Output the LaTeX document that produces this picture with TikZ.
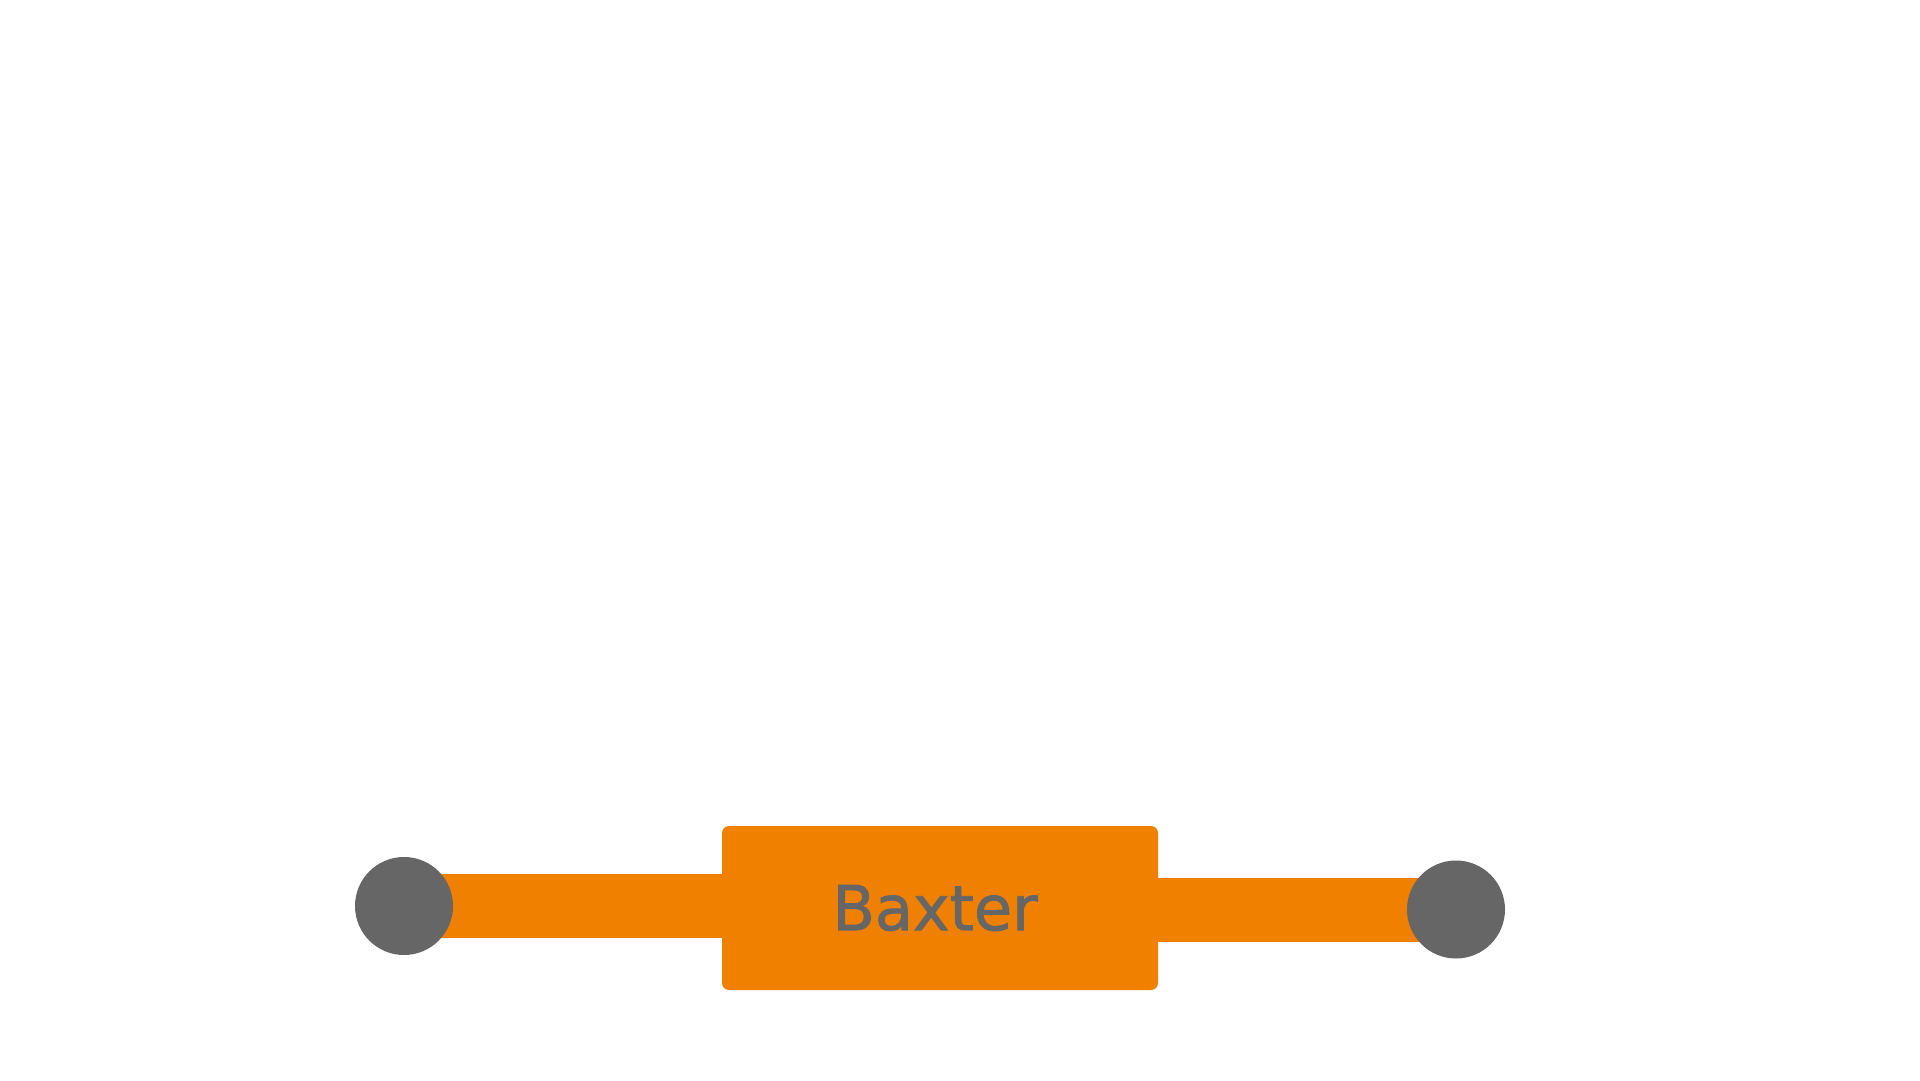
\documentclass[tikz,border=0pt]{standalone}
\usepackage{fontspec}
\setmainfont{DejaVu Sans}
\newfontfamily\labelfont[FakeBold=1.4]{DejaVu Sans}
\usetikzlibrary{positioning}
\usetikzlibrary{backgrounds}
\definecolor{linkorange}{RGB}{240,128,0}
\definecolor{endgray}{RGB}{102,102,102}

\begin{document}
\begin{tikzpicture}[x=1pt,y=1pt,
	endpoint/.style={circle,fill=endgray,minimum size=98pt,inner sep=0pt},
	block/.style={rectangle,rounded corners=7pt,fill=linkorange,minimum width=436pt,minimum height=164pt,
		text=endgray,font=\labelfont\fontsize{62}{74}\selectfont},
	bar/.style={draw=linkorange,line width=64pt}]
	\useasboundingbox (0,0) rectangle (1920,1080);
	\node[endpoint] (P0) at (404,174) {};
	\node[block] (B) at (940,172) {\hspace*{-10pt}Baxter};
	\node[endpoint] (P1) at (1456,170.5) {};
	\begin{scope}[on background layer]
	\path[bar]
	(P0.center)	edge	(P0.center -| B.west)
	(B.east |- P1.center)	edge	(P1.center);
	\end{scope}
\end{tikzpicture}
\end{document}
